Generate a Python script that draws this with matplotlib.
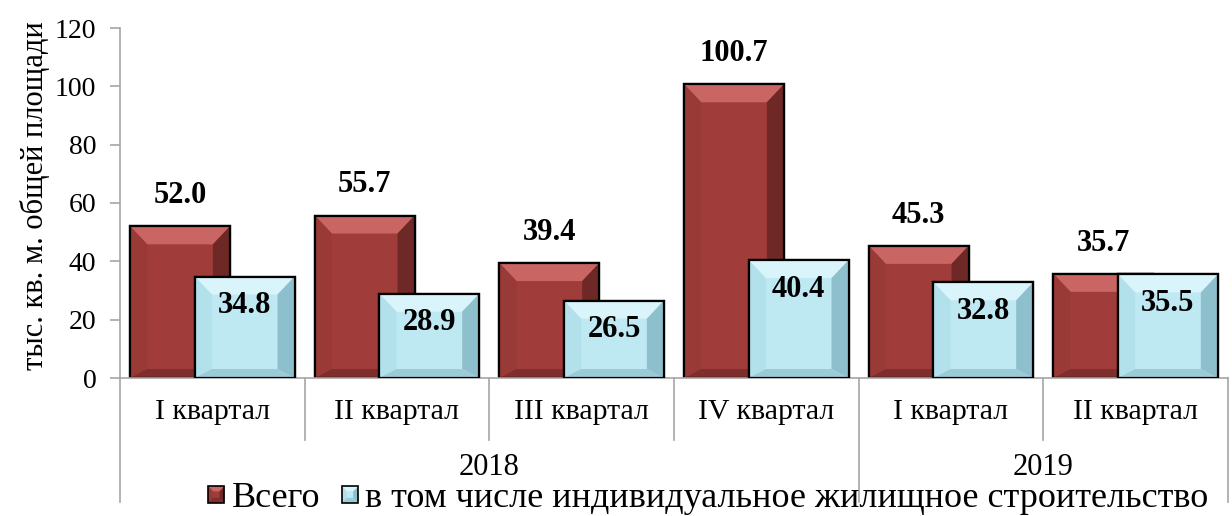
import matplotlib
matplotlib.use("Agg")
import matplotlib.pyplot as plt
from matplotlib.patches import Polygon, Rectangle
from matplotlib.legend_handler import HandlerBase
import matplotlib.transforms as mtrans
import numpy as np

quarters = ["I квартал", "II квартал", "III квартал", "IV квартал", "I квартал", "II квартал"]
years = ["2018", "2019"]
year_spans = [(0, 3), (4, 5)]
total = [52.0, 55.7, 39.4, 100.7, 45.3, 35.7]
individual = [34.8, 28.9, 26.5, 40.4, 32.8, 35.5]
series_names = ["Всего", "в том числе индивидуальное жилищное строительство"]
ylabel = "тыс. кв. м. общей площади"
yticks = [0, 20, 40, 60, 80, 100, 120]

plt.rcParams['font.family'] = ['Liberation Serif', 'DejaVu Serif']

RED = dict(main="#A03C3A", top="#C96663", left="#9A3A37", right="#6E2826", bottom="#7E2E2C")
BLUE = dict(main="#BEE8F2", top="#D9F4FA", left="#B2E0EB", right="#8DBFCC", bottom="#9CCBD7")
GRAY = "#A6A6A6"

fig = plt.figure(figsize=(12.32, 5.16), dpi=100)
ax = fig.add_axes([120/1232, 1-378/516, 1108/1232, 350/516])
ax.set_xlim(-0.5, 5.5)
ax.set_ylim(0, 120)

x = np.arange(len(quarters))
w = 0.54
off = 0.175
bars_r = ax.bar(x - off, total, w, color=RED["main"], edgecolor="black", linewidth=1.6, zorder=2)
bars_b = ax.bar(x + off, individual, w, color=BLUE["main"], edgecolor="black", linewidth=1.6, zorder=4)

inv = ax.transData.inverted()


def bevel(bar, cols, z, bt=18, bs=17, bb=9):
    x0, y0 = bar.get_x(), bar.get_y()
    x1, y1 = x0 + bar.get_width(), y0 + bar.get_height()
    (px0, py0), (px1, py1) = ax.transData.transform([(x0, y0), (x1, y1)])
    pts = {
        "top": [(px0, py1), (px1, py1), (px1 - bs, py1 - bt), (px0 + bs, py1 - bt)],
        "left": [(px0, py0), (px0, py1), (px0 + bs, py1 - bt), (px0 + bs, py0 + bb)],
        "right": [(px1, py0), (px1, py1), (px1 - bs, py1 - bt), (px1 - bs, py0 + bb)],
        "bottom": [(px0, py0), (px1, py0), (px1 - bs, py0 + bb), (px0 + bs, py0 + bb)],
    }
    for k, p in pts.items():
        ax.add_patch(Polygon(inv.transform(p), closed=True, facecolor=cols[k],
                             edgecolor="none", zorder=z + 0.1))
    ax.add_patch(Rectangle((x0, y0), x1 - x0, y1 - y0, facecolor="none",
                           edgecolor="black", linewidth=1.6, zorder=z + 0.2))


for b in bars_r:
    bevel(b, RED, 2)
for b in bars_b:
    bevel(b, BLUE, 4)

for b, v in zip(bars_r, total):
    ax.annotate(f"{v:.1f}", (b.get_x() + b.get_width()/2, v), xytext=(0, 22),
                textcoords="offset points", ha="center", va="center",
                fontsize=22, fontweight="bold", zorder=6)
for b, v in zip(bars_b, individual):
    ax.annotate(f"{v:.1f}", (b.get_x() + b.get_width()/2, v), xytext=(0, -21),
                textcoords="offset points", ha="center", va="center",
                fontsize=22, fontweight="bold", zorder=6)

for s in ["top", "right"]:
    ax.spines[s].set_visible(False)
for s in ["bottom", "left"]:
    ax.spines[s].set_color(GRAY)
    ax.spines[s].set_linewidth(1.2)
ax.set_xticks([])
ax.set_yticks(yticks)
ax.tick_params(axis="y", length=7, width=1.2, color=GRAY, labelsize=20, pad=10)
ax.set_ylabel(ylabel, fontsize=22)
ax.yaxis.set_label_coords(-0.063, 0.52)

# multi-level category axis
trans = mtrans.blended_transform_factory(ax.transData, ax.transAxes)
ax_h = 350.0
for sep in [0.5, 1.5, 2.5, 4.5]:
    ax.plot([sep, sep], [0, -62/ax_h], transform=trans, color=GRAY, lw=1.2, clip_on=False)
for sep in [-0.5, 3.5, 5.5]:
    ax.plot([sep, sep], [0, -124/ax_h], transform=trans, color=GRAY, lw=1.2, clip_on=False)
for xi, q in zip(x, quarters):
    ax.text(xi, -34/ax_h, q, transform=trans, ha="center", va="center", fontsize=21.5)
for (a, b), yr in zip(year_spans, years):
    ax.text((a + b)/2, -90/ax_h, yr, transform=trans, ha="center", va="center", fontsize=22)


class BevelHandler(HandlerBase):
    def __init__(self, cols):
        super().__init__()
        self.cols = cols

    def create_artists(self, legend, orig_handle, xdescent, ydescent, width, height, fontsize, trans):
        s = min(width, height)
        x0 = -xdescent + (width - s)/2
        y0 = -ydescent + (height - s)/2
        x1, y1 = x0 + s, y0 + s
        b = s * 0.3
        c = self.cols
        arts = [Rectangle((x0, y0), s, s, facecolor=c["main"], edgecolor="none", transform=trans)]
        polys = {
            "top": [(x0, y1), (x1, y1), (x1 - b, y1 - b), (x0 + b, y1 - b)],
            "left": [(x0, y0), (x0, y1), (x0 + b, y1 - b), (x0 + b, y0 + b)],
            "right": [(x1, y0), (x1, y1), (x1 - b, y1 - b), (x1 - b, y0 + b)],
            "bottom": [(x0, y0), (x1, y0), (x1 - b, y0 + b), (x0 + b, y0 + b)],
        }
        for k, p in polys.items():
            arts.append(Polygon(p, closed=True, facecolor=c[k], edgecolor="none", transform=trans))
        arts.append(Rectangle((x0, y0), s, s, facecolor="none", edgecolor="black", lw=1.2, transform=trans))
        return arts


h1 = Rectangle((0, 0), 1, 1)
h2 = Rectangle((0, 0), 1, 1)
fig.legend([h1, h2], series_names, loc="center", bbox_to_anchor=(0.575, 0.033), ncol=2,
           frameon=False, fontsize=26, handlelength=0.45, handleheight=0.45, handletextpad=0.2,
           columnspacing=0.6, borderaxespad=0, borderpad=0,
           handler_map={h1: BevelHandler(RED), h2: BevelHandler(BLUE)})

fig.savefig("out.png", dpi=100)
